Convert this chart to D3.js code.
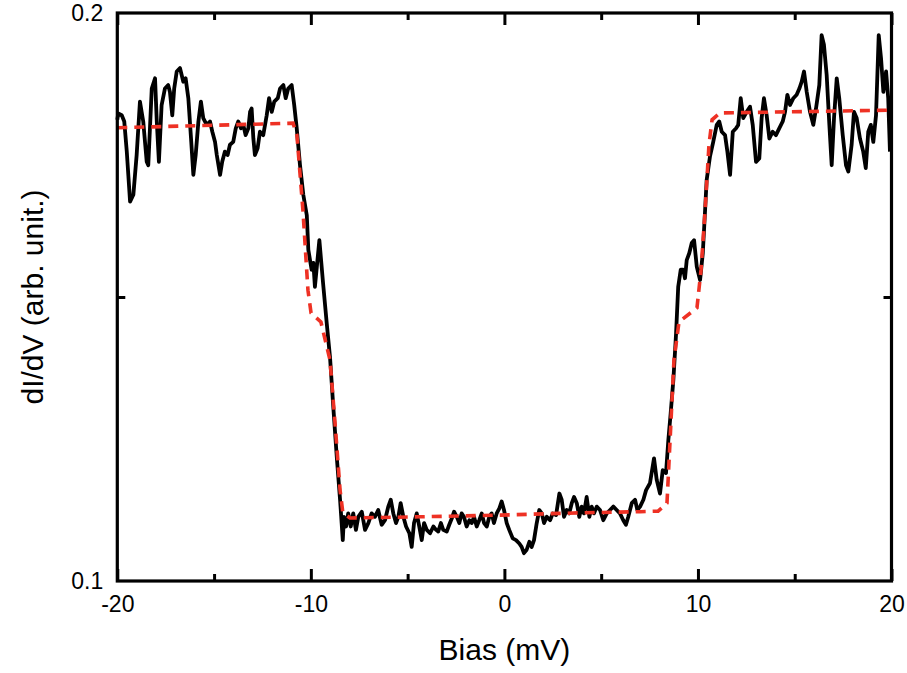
<!DOCTYPE html>
<head>
  <meta charset="utf-8">
  <script src="https://d3js.org/d3.v7.min.js"></script>
  <style>
    body { margin:0; background:#fff; }
    text { font-family: "Liberation Sans", Arial, sans-serif; fill:#000; }
  </style>
</head>
<body>
<div id="figure"></div>
<script>
// measured spectrum, bias in mV
var bias = [
  -20.00, -19.95, -19.77, -19.64, -19.51, -19.34, -19.17, -19.00, -18.83, -18.66,
  -18.48, -18.40, -18.22, -18.05, -17.96, -17.85, -17.71, -17.54, -17.37, -17.28,
  -17.16, -17.06, -16.93, -16.76, -16.59, -16.47, -16.33, -16.19, -16.07, -15.95,
  -15.81, -15.68, -15.56, -15.38, -15.21, -15.09, -14.95, -14.86, -14.69, -14.58,
  -14.44, -14.30, -14.18, -14.01, -13.88, -13.75, -13.61, -13.49, -13.37, -13.23,
  -13.14, -13.06, -12.97, -12.89, -12.75, -12.63, -12.46, -12.28, -12.16, -12.02,
  -11.89, -11.71, -11.59, -11.42, -11.30, -11.17, -10.99, -10.86, -10.73, -10.56,
  -10.39, -10.21, -10.13, -9.96, -9.87, -9.79, -9.56, -9.37, -9.18, -9.01,
  -8.84, -8.66, -8.49, -8.35, -8.29, -8.18, -8.07, -7.94, -7.81, -7.67,
  -7.55, -7.37, -7.20, -7.03, -6.86, -6.69, -6.52, -6.34, -6.17, -6.00,
  -5.87, -5.74, -5.60, -5.48, -5.36, -5.22, -5.08, -4.91, -4.79, -4.67,
  -4.53, -4.40, -4.27, -4.15, -4.01, -3.84, -3.67, -3.53, -3.42, -3.28,
  -3.16, -2.98, -2.85, -2.72, -2.60, -2.46, -2.33, -2.21, -2.09, -1.95,
  -1.81, -1.69, -1.57, -1.43, -1.30, -1.17, -1.05, -0.91, -0.78, -0.66,
  -0.54, -0.40, -0.26, -0.14, -0.02, 0.12, 0.25, 0.43, 0.60, 0.77,
  0.89, 1.01, 1.15, 1.29, 1.41, 1.53, 1.67, 1.80, 1.93, 2.05,
  2.19, 2.36, 2.50, 2.67, 2.84, 2.96, 3.08, 3.22, 3.35, 3.48,
  3.60, 3.74, 3.87, 3.99, 4.11, 4.25, 4.39, 4.51, 4.63, 4.77,
  4.94, 5.11, 5.29, 5.46, 5.63, 5.80, 5.97, 6.14, 6.28, 6.40,
  6.58, 6.75, 6.87, 7.01, 7.18, 7.32, 7.52, 7.73, 7.87, 8.04,
  8.18, 8.35, 8.47, 8.59, 8.73, 8.87, 8.98, 9.11, 9.24, 9.33,
  9.42, 9.55, 9.68, 9.80, 9.94, 10.11, 10.25, 10.36, 10.45, 10.62,
  10.79, 10.97, 11.10, 11.23, 11.40, 11.52, 11.66, 11.80, 11.97, 12.08,
  12.21, 12.34, 12.52, 12.69, 12.83, 13.00, 13.17, 13.29, 13.41, 13.55,
  13.69, 13.86, 14.03, 14.20, 14.38, 14.50, 14.62, 14.76, 14.93, 15.10,
  15.24, 15.36, 15.48, 15.62, 15.79, 15.96, 16.10, 16.27, 16.39, 16.51,
  16.65, 16.79, 16.91, 17.03, 17.17, 17.30, 17.48, 17.65, 17.77, 17.94,
  18.06, 18.20, 18.37, 18.54, 18.67, 18.80, 18.93, 19.06, 19.20, 19.34,
  19.46, 19.58, 19.72, 19.83, 19.92
];
// measured dI/dV (arb. unit)
var didv = [
  0.1812, 0.1823, 0.1820, 0.1809, 0.1756, 0.1668, 0.1680, 0.1750, 0.1844, 0.1809,
  0.1738, 0.1732, 0.1867, 0.1885, 0.1809, 0.1738, 0.1838, 0.1867, 0.1873, 0.1861,
  0.1820, 0.1867, 0.1897, 0.1903, 0.1879, 0.1885, 0.1850, 0.1779, 0.1715, 0.1750,
  0.1809, 0.1844, 0.1815, 0.1803, 0.1809, 0.1791, 0.1773, 0.1750, 0.1715, 0.1738,
  0.1756, 0.1750, 0.1768, 0.1773, 0.1797, 0.1809, 0.1797, 0.1803, 0.1785, 0.1797,
  0.1826, 0.1832, 0.1779, 0.1750, 0.1762, 0.1791, 0.1785, 0.1820, 0.1850, 0.1826,
  0.1844, 0.1850, 0.1867, 0.1873, 0.1850, 0.1867, 0.1873, 0.1838, 0.1797, 0.1732,
  0.1680, 0.1644, 0.1583, 0.1548, 0.1560, 0.1518, 0.1600, 0.1525, 0.1454, 0.1394,
  0.1306, 0.1218, 0.1143, 0.1072, 0.1113, 0.1096, 0.1119, 0.1096, 0.1119, 0.1090,
  0.1113, 0.1122, 0.1090, 0.1102, 0.1119, 0.1113, 0.1125, 0.1099, 0.1107, 0.1131,
  0.1143, 0.1119, 0.1102, 0.1113, 0.1137, 0.1113, 0.1096, 0.1084, 0.1060, 0.1102,
  0.1119, 0.1096, 0.1072, 0.1102, 0.1090, 0.1084, 0.1096, 0.1090, 0.1087, 0.1102,
  0.1090, 0.1087, 0.1099, 0.1110, 0.1122, 0.1113, 0.1102, 0.1119, 0.1113, 0.1096,
  0.1107, 0.1102, 0.1113, 0.1096, 0.1107, 0.1119, 0.1102, 0.1096, 0.1113, 0.1119,
  0.1102, 0.1119, 0.1128, 0.1140, 0.1125, 0.1102, 0.1090, 0.1075, 0.1072, 0.1066,
  0.1060, 0.1049, 0.1055, 0.1069, 0.1060, 0.1072, 0.1102, 0.1125, 0.1119, 0.1102,
  0.1113, 0.1107, 0.1119, 0.1116, 0.1154, 0.1143, 0.1113, 0.1125, 0.1119, 0.1137,
  0.1148, 0.1137, 0.1113, 0.1131, 0.1119, 0.1148, 0.1113, 0.1131, 0.1119, 0.1131,
  0.1125, 0.1107, 0.1119, 0.1125, 0.1131, 0.1125, 0.1119, 0.1107, 0.1099, 0.1113,
  0.1137, 0.1143, 0.1125, 0.1131, 0.1143, 0.1160, 0.1172, 0.1216, 0.1178, 0.1154,
  0.1195, 0.1190, 0.1248, 0.1295, 0.1354, 0.1436, 0.1518, 0.1548, 0.1548, 0.1533,
  0.1565, 0.1577, 0.1595, 0.1600, 0.1553, 0.1530, 0.1577, 0.1647, 0.1706, 0.1747,
  0.1773, 0.1803, 0.1809, 0.1791, 0.1785, 0.1756, 0.1715, 0.1791, 0.1797, 0.1803,
  0.1850, 0.1815, 0.1826, 0.1835, 0.1803, 0.1738, 0.1744, 0.1815, 0.1850, 0.1820,
  0.1779, 0.1791, 0.1785, 0.1797, 0.1809, 0.1826, 0.1856, 0.1838, 0.1850, 0.1856,
  0.1867, 0.1879, 0.1897, 0.1861, 0.1826, 0.1803, 0.1832, 0.1873, 0.1961, 0.1944,
  0.1891, 0.1803, 0.1732, 0.1815, 0.1885, 0.1850, 0.1785, 0.1732, 0.1721, 0.1768,
  0.1826, 0.1815, 0.1779, 0.1756, 0.1727, 0.1791, 0.1803, 0.1773, 0.1820, 0.1961,
  0.1920, 0.1861, 0.1897, 0.1850, 0.1756
];
// fitted curve (red dashed)
var fitBias = [-20.00, -10.92, -10.72, -10.41, -10.15, -9.99, -9.48, -9.01, -8.75, -8.49,
  -8.35, -7.98, -4.36, -0.23, 3.91, 7.01, 7.94, 8.40, 8.56, 8.76,
  9.02, 9.95, 10.16, 10.37, 10.57, 10.73, 11.14, 20.00];
var fitDidv = [0.1798, 0.1806, 0.1785, 0.1653, 0.1512, 0.1472, 0.1456, 0.1389, 0.1278, 0.1160,
  0.1121, 0.1111, 0.1113, 0.1116, 0.1120, 0.1122, 0.1123, 0.1137, 0.1248, 0.1389,
  0.1456, 0.1481, 0.1548, 0.1653, 0.1768, 0.1812, 0.1824, 0.1829];

var xMajor = [-20, -10, 0, 10, 20];
var xMinor = [-15, -5, 5, 15];
var yMajor = [0.1, 0.2];
var yMinor = [0.15];

var margin = {top: 13, right: 15.5, bottom: 92, left: 117.3};
var width = 907 - margin.left - margin.right;
var height = 673 - margin.top - margin.bottom;

var svg = d3.select("#figure").append("svg")
  .attr("width", 907)
  .attr("height", 673)
  .append("g")
  .attr("transform", "translate(" + margin.left + "," + margin.top + ")");

var x = d3.scaleLinear().domain([-20, 20]).range([0, width]);
var y = d3.scaleLinear().domain([0.1, 0.2]).range([height, 0]);

var spectrum = d3.zip(bias, didv);
var fit = d3.zip(fitBias, fitDidv);

var line = d3.line()
  .x(function(d) { return x(d[0]); })
  .y(function(d) { return y(d[1]); });

svg.append("path")
  .datum(spectrum)
  .attr("d", line)
  .attr("fill", "none")
  .attr("stroke", "#000")
  .attr("stroke-width", 3.8)
  .attr("stroke-linejoin", "round");

svg.append("path")
  .datum(fit)
  .attr("d", line)
  .attr("fill", "none")
  .attr("stroke", "#ee3124")
  .attr("stroke-width", 3.6)
  .attr("stroke-dasharray", "10,7");

// axes: ticks point inward
function styleAxis(g) {
  g.select(".domain").remove();
  g.selectAll(".tick line").attr("stroke", "#000").attr("stroke-width", 3);
  g.selectAll(".tick text").style("font-size", "23px").attr("fill", "#000");
}

svg.append("g")
  .attr("transform", "translate(0," + height + ")")
  .call(d3.axisBottom(x).tickValues(xMajor).tickSize(-12).tickPadding(15).tickFormat(function(d) { return String(d); }))
  .call(styleAxis);
svg.append("g")
  .attr("transform", "translate(0," + height + ")")
  .call(d3.axisBottom(x).tickValues(xMinor).tickSize(-7).tickFormat(""))
  .call(styleAxis);
svg.append("g")
  .call(d3.axisTop(x).tickValues(xMajor).tickSize(-12).tickFormat(""))
  .call(styleAxis);
svg.append("g")
  .call(d3.axisTop(x).tickValues(xMinor).tickSize(-7).tickFormat(""))
  .call(styleAxis);

svg.append("g")
  .call(d3.axisLeft(y).tickValues(yMajor).tickSize(0).tickPadding(14).tickFormat(d3.format(".1f")))
  .call(styleAxis);
svg.append("g")
  .call(d3.axisLeft(y).tickValues(yMinor).tickSize(-8).tickFormat(""))
  .call(styleAxis);
svg.append("g")
  .attr("transform", "translate(" + width + ",0)")
  .call(d3.axisRight(y).tickValues(yMinor).tickSize(-8).tickFormat(""))
  .call(styleAxis);

svg.append("rect")
  .attr("width", width)
  .attr("height", height)
  .attr("fill", "none")
  .attr("stroke", "#000")
  .attr("stroke-width", 3.2);

svg.append("text")
  .attr("x", width / 2)
  .attr("y", height + 79)
  .attr("text-anchor", "middle")
  .style("font-size", "30px")
  .text("Bias (mV)");

svg.append("text")
  .attr("transform", "translate(" + (-74) + "," + (height / 2) + ") rotate(-90)")
  .attr("text-anchor", "middle")
  .style("font-size", "30px")
  .text("dI/dV (arb. unit.)");
</script>
</body>
